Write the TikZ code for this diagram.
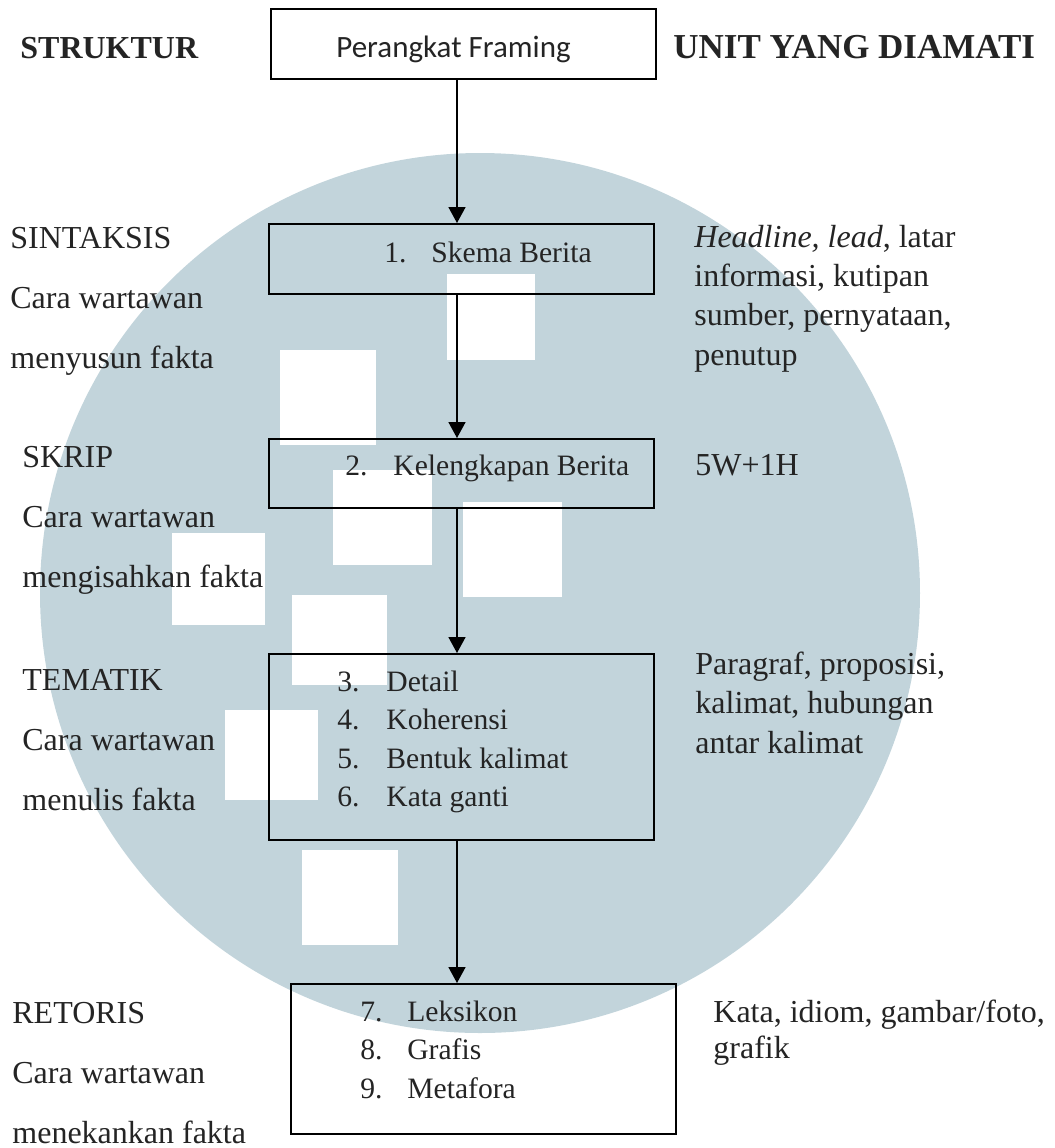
\documentclass[tikz,border=0pt]{standalone}
\usepackage{fontspec}
\setmainfont{Liberation Serif}
\newfontfamily\calibri{Carlito}
\usetikzlibrary{calc,arrows.meta}
\definecolor{logo}{RGB}{194,212,219}
\definecolor{ink}{RGB}{36,36,36}
\makeatletter
\pgfkeys{
  /kolom/.cd,
  id/.store in=\kolom@id,
  at/.store in=\kolom@at,
  gap/.store in=\kolom@gap,
  gap/.default=60,
}
% nama struktur dengan dua baris keterangan di bawahnya
\newcommand{\struktur}[4][]{
  \pgfkeys{/kolom/.cd,gap,#1}
  \node[struktur name] (\kolom@id) at \kolom@at {#2};
  \node[struktur text] (\kolom@id-cara) at ($ (\kolom@id.base west) + (0,\kolom@gap) $) {#3};
  \node[struktur text] (\kolom@id-fakta) at ($ (\kolom@id-cara.base west) + (0,\kolom@gap) $) {#4};
}
\makeatother

\begin{document}
\begin{tikzpicture}[
    x=0.5pt,y=-0.5pt,
    every node/.style={inner sep=0pt,text=ink,font=\fontsize{16pt}{19.6pt}\selectfont},
    head/.style={anchor=base west,font=\fontsize{16pt}{20pt}\selectfont\bfseries},
    struktur name/.style={anchor=base west},
    struktur text/.style={anchor=base west},
    unit/.style={anchor=base west,align=left},
    box/.style={draw=black,line width=0.9pt,anchor=north west,minimum width=192.5pt},
    item/.style={anchor=base west,font=\fontsize{14.8pt}{18pt}\selectfont},
    flow/.style={-{Triangle[length=8pt,width=8.5pt]},line width=0.8pt,draw=black},
    logo/.style={fill=logo},
    logo hole/.style={fill=white},
  ]
  \useasboundingbox (0,0) rectangle (1055,1148);

  % watermark
  \fill[logo] (480,593) circle (440);
  \foreach \x/\y/\w/\h in {280/350/96/95,447/274/88/86,333/470/99/95,463/502/99/95,
                           172/533/93/92,292/595/95/90,225/710/93/90,302/850/96/95} {
    \fill[logo hole] (\x,\y) rectangle ++(\w,\h);
  }

  \node[head] (struktur-head) at (20,58) {STRUKTUR};
  \node[head,font=\fontsize{17.5pt}{20pt}\selectfont\bfseries] (unit-head) at (673,58) {UNIT YANG DIAMATI};

  \node[box,minimum height=35pt] (framing--box) at (270,8) {};
  \node[anchor=base west,font=\calibri\fontsize{15.5pt}{18pt}\selectfont] (framing) at ($ (framing--box.north west) + (66,49) $) {Perangkat Framing};

  \node[box,minimum height=35pt] (sintaksis--box) at (268,223) {};
  \node[item] (sintaksis-1) at ($ (sintaksis--box.north west) + (116,39) $) {\makebox[23.5pt][l]{1.}Skema Berita};

  \node[box,minimum height=34.5pt] (skrip--box) at (268,438) {};
  \node[item] (skrip-2) at ($ (skrip--box.north west) + (77,37) $) {\makebox[24pt][l]{2.}Kelengkapan Berita};

  \node[box,minimum height=93pt] (tematik--box) at (268,653) {};
  \foreach \n/\t [count=\i from 0] in {3/Detail,4/Koherensi,5/Bentuk kalimat,6/Kata ganti} {
    \node[item] (tematik-\n) at ($ (tematik--box.north west) + (69,38+38.5*\i) $) {\makebox[24.5pt][l]{\n.}\t};
  }

  \node[box,minimum height=75pt] (retoris--box) at (290,983) {};
  \foreach \n/\t [count=\i from 0] in {7/Leksikon,8/Grafis,9/Metafora} {
    \node[item] (retoris-\n) at ($ (retoris--box.north west) + (70,38+38.5*\i) $) {\makebox[23.5pt][l]{\n.}\t};
  }

  \coordinate (spine) at (457,0);
  \draw[flow] (spine |- framing--box.south) -- (spine |- sintaksis--box.north);
  \draw[flow] (spine |- sintaksis--box.south) -- (spine |- skrip--box.north);
  \draw[flow] (spine |- skrip--box.south) -- (spine |- tematik--box.north);
  \draw[flow] (spine |- tematik--box.south) -- (spine |- retoris--box.north);

  \struktur[id=sintaksis,at={(10,248)}]{SINTAKSIS}{Cara wartawan}{menyusun fakta}
  \struktur[id=skrip,at={(22,467)}]{SKRIP}{Cara wartawan}{mengisahkan fakta}
  \struktur[id=tematik,at={(22,690)}]{TEMATIK}{Cara wartawan}{menulis fakta}
  \struktur[id=retoris,at={(12,1023)}]{RETORIS}{Cara wartawan}{menekankan fakta}

  % align=left: base is the last line
  \node[unit] (sintaksis-unit) at (694,365) {\textit{Headline, lead}, latar\\informasi, kutipan\\sumber, pernyataan,\\penutup};
  \node[unit] (skrip-unit) at (695,475) {5W+1H};
  \node[unit] (tematik-unit) at (695,753) {Paragraf, proposisi,\\kalimat, hubungan\\antar kalimat};
  \node[unit,font=\fontsize{16pt}{18pt}\selectfont] (retoris-unit) at (713,1058) {Kata, idiom, gambar/foto,\\grafik};

\end{tikzpicture}
\end{document}
